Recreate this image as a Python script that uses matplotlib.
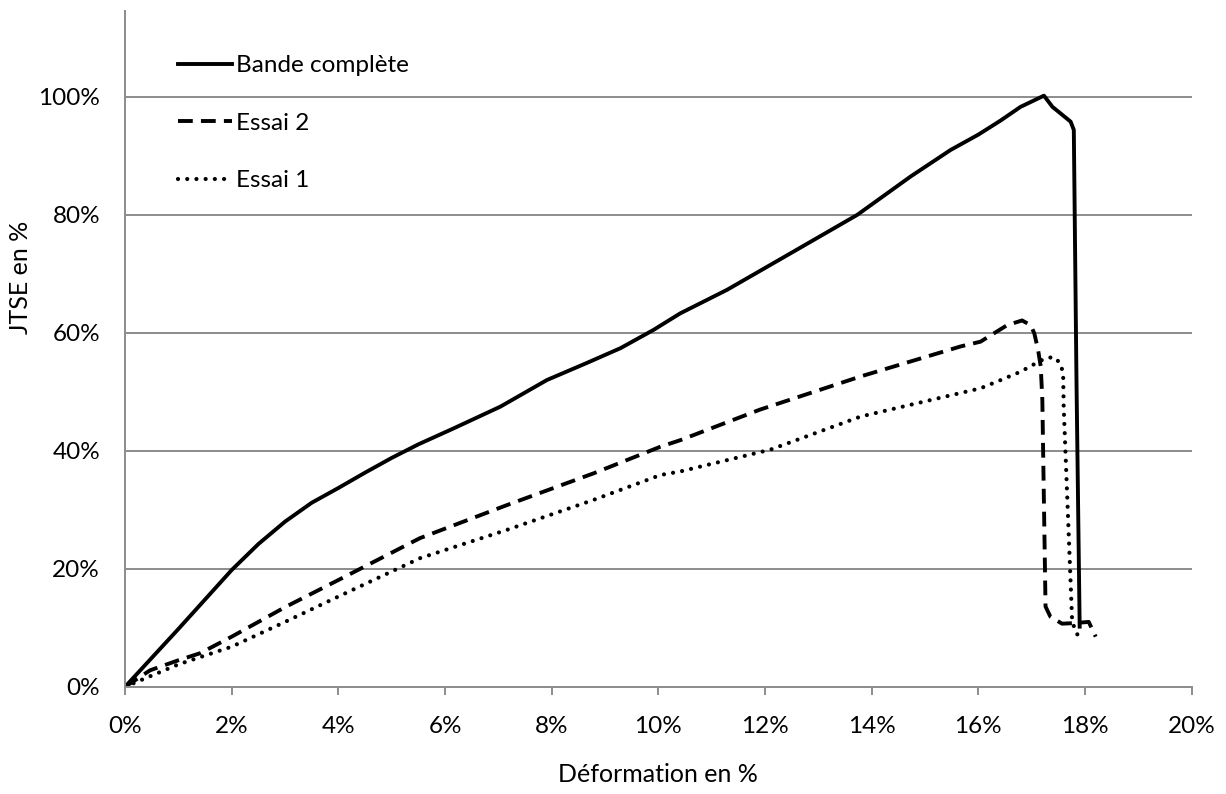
import matplotlib
matplotlib.use("Agg")
from matplotlib import pyplot as plt
from matplotlib.ticker import PercentFormatter

""" Essai de traction : JTSE en fonction de la déformation """

# Bande complète
bande_x = [0, 1.0, 2.0, 2.5, 3.0, 3.5, 4.0, 4.5, 5.0, 5.5, 6.16, 7.04, 7.91,
           8.66, 9.29, 9.91, 10.41, 11.29, 12.54, 13.73, 14.73, 15.48, 16.0,
           16.42, 16.79, 17.23, 17.39, 17.54, 17.73, 17.79, 17.84, 17.9]
bande_y = [0, 9.8, 19.8, 24.2, 28, 31.2, 33.7, 36.3, 38.8, 41.1, 43.8, 47.5,
           52, 54.9, 57.4, 60.5, 63.3, 67.3, 73.8, 80, 86.5, 91, 93.6,
           96, 98.3, 100.2, 98.3, 97.2, 95.8, 94.4, 52, 10.2]

# Essai 2
essai2_x = [0, 0.47, 1.0, 1.41, 2.0, 3.0, 4.0, 5.53, 7.16, 8.79, 10.04, 10.41,
            11.91, 13.79, 15.67, 16.04, 16.29, 16.54, 16.82, 16.98, 17.05,
            17.12, 17.17, 17.2, 17.26, 17.35, 17.57, 17.8, 18.07, 18.2]
essai2_y = [0, 2.8, 4.5, 5.7, 8.5, 13.5, 18.1, 25.2, 30.8, 36.2, 40.7, 41.8,
            47, 52.6, 57.7, 58.5, 59.9, 61.3, 62.1, 61.3, 59.9,
            57.1, 54.3, 48.6, 13.6, 11.9, 10.7, 10.8, 11.0, 8.5]

# Essai 1
essai1_x = [0, 1.0, 2.0, 3.0, 4.0, 5.53, 7.16, 8.79, 10.04, 10.41, 12.1,
            13.79, 16.04, 16.42, 16.79, 17.07, 17.26, 17.42, 17.54, 17.59,
            17.6, 17.76, 17.85, 17.87]
essai1_y = [0, 3.8, 6.8, 11, 15.3, 21.8, 26.6, 31.7, 35.9, 36.5, 40.2,
            45.8, 50.6, 52, 53.4, 54.8, 55.7, 55.9, 54.8, 53.1,
            47.5, 10.8, 9.3, 7.9]

x_ticks = [0, 2, 4, 6, 8, 10, 12, 14, 16, 18, 20]
y_ticks = [0, 20, 40, 60, 80, 100]


def main():
    plt.rcParams['font.family'] = ['Lato', 'DejaVu Sans']
    grey = "#8c8c8c"

    fig = plt.figure(figsize=(12.26, 7.94), dpi=100)
    ax = fig.add_axes([0.102, 0.135, 0.870, 0.8515])

    ax.plot(bande_x, bande_y, color="black", lw=2.8,
            solid_joinstyle="round", label="Bande complète")
    ax.plot(essai2_x, essai2_y, color="black", lw=2.8,
            dashes=(3.8, 2.1), label="Essai 2")
    ax.plot(essai1_x, essai1_y, color="black", lw=3.0,
            dashes=(0.01, 2.2), dash_capstyle="round", label="Essai 1")

    ax.set_xlim(0, 20)
    ax.set_ylim(0, 114.6)
    ax.set_xticks(x_ticks)
    ax.set_yticks(y_ticks)
    ax.xaxis.set_major_formatter(PercentFormatter(100, decimals=0))
    ax.yaxis.set_major_formatter(PercentFormatter(100, decimals=0))

    ax.grid(axis="y", color=grey, lw=1.4)
    ax.set_axisbelow(True)
    for side in ["top", "right"]:
        ax.spines[side].set_visible(False)
    for side in ["left", "bottom"]:
        ax.spines[side].set_color(grey)
        ax.spines[side].set_linewidth(1.4)

    ax.tick_params(axis="x", direction="out", length=6, width=1.4,
                   color=grey, pad=15, labelsize=17.5)
    ax.tick_params(axis="y", length=0, pad=18, labelsize=17.5)

    ax.set_xlabel("Déformation en %", fontsize=18)
    ax.set_ylabel("JTSE en %", fontsize=18)
    ax.xaxis.set_label_coords(0.5, -0.113)
    ax.yaxis.set_label_coords(-0.087, 0.606)

    ax.legend(loc="upper left", bbox_to_anchor=(0.05, 0.934), frameon=False,
              fontsize=17.5, handlelength=2.2, handletextpad=0.15,
              labelspacing=1.5, borderpad=0, borderaxespad=0)

    fig.savefig("out.png", dpi=100)


if __name__ == "__main__":
    main()
